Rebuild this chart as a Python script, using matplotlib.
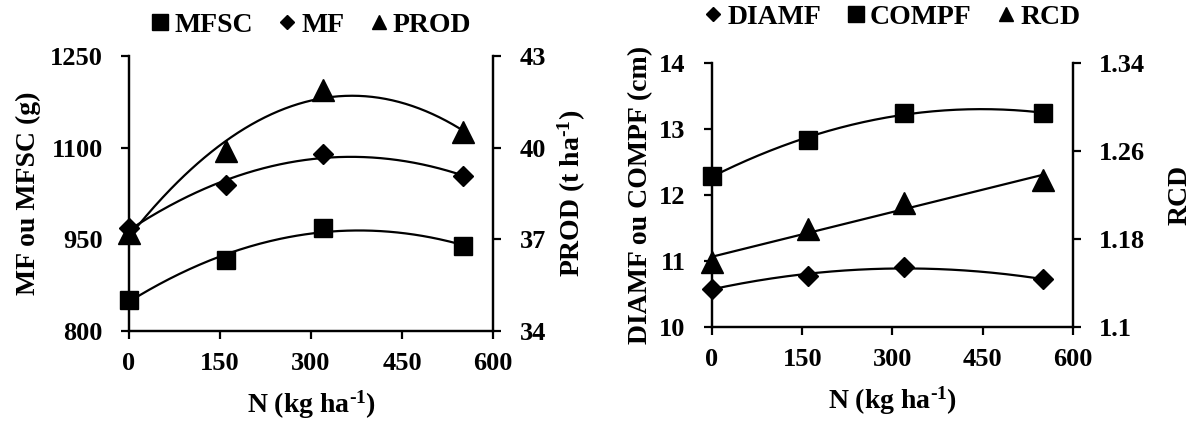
import numpy as np
import matplotlib
matplotlib.use("Agg")
import matplotlib.pyplot as plt
from matplotlib.lines import Line2D

plt.rcParams['font.family'] = ['Liberation Serif', 'DejaVu Serif']
plt.rcParams['font.weight'] = 'bold'
plt.rcParams['mathtext.fontset'] = 'custom'
plt.rcParams['mathtext.rm'] = 'Liberation Serif:bold'
plt.rcParams['mathtext.it'] = 'Liberation Serif:bold'
plt.rcParams['mathtext.bf'] = 'Liberation Serif:bold'
plt.rcParams['mathtext.default'] = 'rm'

# Data
N = [0, 160, 320, 550]
mfsc = [851, 917, 969, 939]
mf = [968, 1039, 1090, 1053]
prod = [37.2, 39.9, 41.9, 40.5]
diamf = [10.58, 10.78, 10.91, 10.72]
compf = [12.29, 12.84, 13.25, 13.24]
rcd = [1.159, 1.189, 1.213, 1.234]

xticks = [0, 150, 300, 450, 600]
left_yticks1 = [800, 950, 1100, 1250]
right_yticks1 = [34, 37, 40, 43]
left_yticks2 = [10, 11, 12, 13, 14]
right_yticks2 = [1.1, 1.18, 1.26, 1.34]
right_yticklabels2 = ["1.1", "1.18", "1.26", "1.34"]

FS = 19
LFS = 20
LW = 1.6

fig = plt.figure(figsize=(11.95, 4.23), dpi=100)

def style(ax):
    ax.spines['top'].set_visible(False)
    for s in ['left', 'right', 'bottom']:
        ax.spines[s].set_linewidth(LW)
    ax.tick_params(axis='both', direction='out', length=6, width=LW,
                   labelsize=FS)
    ax.tick_params(axis='y', pad=13)
    ax.tick_params(axis='x', pad=9)

def fit_curve(ax, x, y, deg):
    c = np.polyfit(x, y, deg)
    xs = np.linspace(min(x), max(x), 200)
    ax.plot(xs, np.polyval(c, xs), color='black', lw=LW, zorder=2)

XL = "N (kg ha$^{\\text{-1}}$)"

def markers(ax, y, kind):
    ms = {'s': 13.5, 'D': 10.5, '^': 15.5}[kind]
    ax.plot(N, y, ls='none', marker=kind, ms=ms, color='black',
            clip_on=False, zorder=3)

def leg_handles(kinds):
    ms = {'s': 11.5, 'D': 7.5, '^': 10.5}
    return [Line2D([], [], ls='none', marker=k, ms=ms[k], color='black') for k in kinds]

# ---------- Left panel ----------
ax1 = fig.add_axes([0.108, 0.2175, 0.3046, 0.650])
ax1b = ax1.twinx()
style(ax1); style(ax1b)
ax1.set_xlim(0, 600)
ax1.set_ylim(800, 1250)
ax1b.set_ylim(34, 43)
ax1.set_xticks(xticks)
ax1.set_yticks(left_yticks1)
ax1b.set_yticks(right_yticks1)

fit_curve(ax1, N, mfsc, 2)
fit_curve(ax1, N, mf, 2)
fit_curve(ax1b, N, prod, 2)
markers(ax1, mfsc, 's')
markers(ax1, mf, 'D')
markers(ax1b, prod, '^')

ax1.set_xlabel(XL, fontsize=LFS, fontweight='bold', labelpad=10)
ax1.set_ylabel("MF ou MFSC (g)", fontsize=LFS, fontweight='bold', labelpad=6)
ax1b.set_ylabel("PROD (t ha$^{\\text{-1}}$)", fontsize=LFS, fontweight='bold', labelpad=7)

fig.legend(leg_handles(['s', 'D', '^']), ["MFSC", "MF", "PROD"], loc='center',
           bbox_to_anchor=(311/1195, 1 - 25/423),
           ncol=3, frameon=False, fontsize=LFS, handlelength=0.7, handletextpad=0.15,
           columnspacing=0.9, borderpad=0)

# ---------- Right panel ----------
ax2 = fig.add_axes([0.5958, 0.227, 0.302, 0.624])
ax2b = ax2.twinx()
style(ax2); style(ax2b)
ax2.set_xlim(0, 600)
ax2.set_ylim(10, 14)
ax2b.set_ylim(1.1, 1.34)
ax2.set_xticks(xticks)
ax2.set_yticks(left_yticks2)
ax2b.set_yticks(right_yticks2)
ax2b.set_yticklabels(right_yticklabels2)

fit_curve(ax2, N, diamf, 2)
fit_curve(ax2, N, compf, 2)
fit_curve(ax2b, N, rcd, 1)
markers(ax2, diamf, 'D')
markers(ax2, compf, 's')
markers(ax2b, rcd, '^')

ax2.set_xlabel(XL, fontsize=LFS, fontweight='bold', labelpad=10)
ax2.set_ylabel("DIAMF ou COMPF (cm)", fontsize=LFS, fontweight='bold', labelpad=4)
ax2b.set_ylabel("RCD", fontsize=LFS, fontweight='bold', labelpad=16)

fig.legend(leg_handles(['D', 's', '^']), ["DIAMF", "COMPF", "RCD"], loc='center',
           bbox_to_anchor=(892/1195, 1 - 17/423),
           ncol=3, frameon=False, fontsize=LFS, handlelength=0.7, handletextpad=0.15,
           columnspacing=0.9, borderpad=0)

for ax in (ax1, ax1b, ax2, ax2b):
    for lab in ax.get_xticklabels() + ax.get_yticklabels():
        lab.set_fontweight('bold')

fig.savefig("out.png", dpi=100)
